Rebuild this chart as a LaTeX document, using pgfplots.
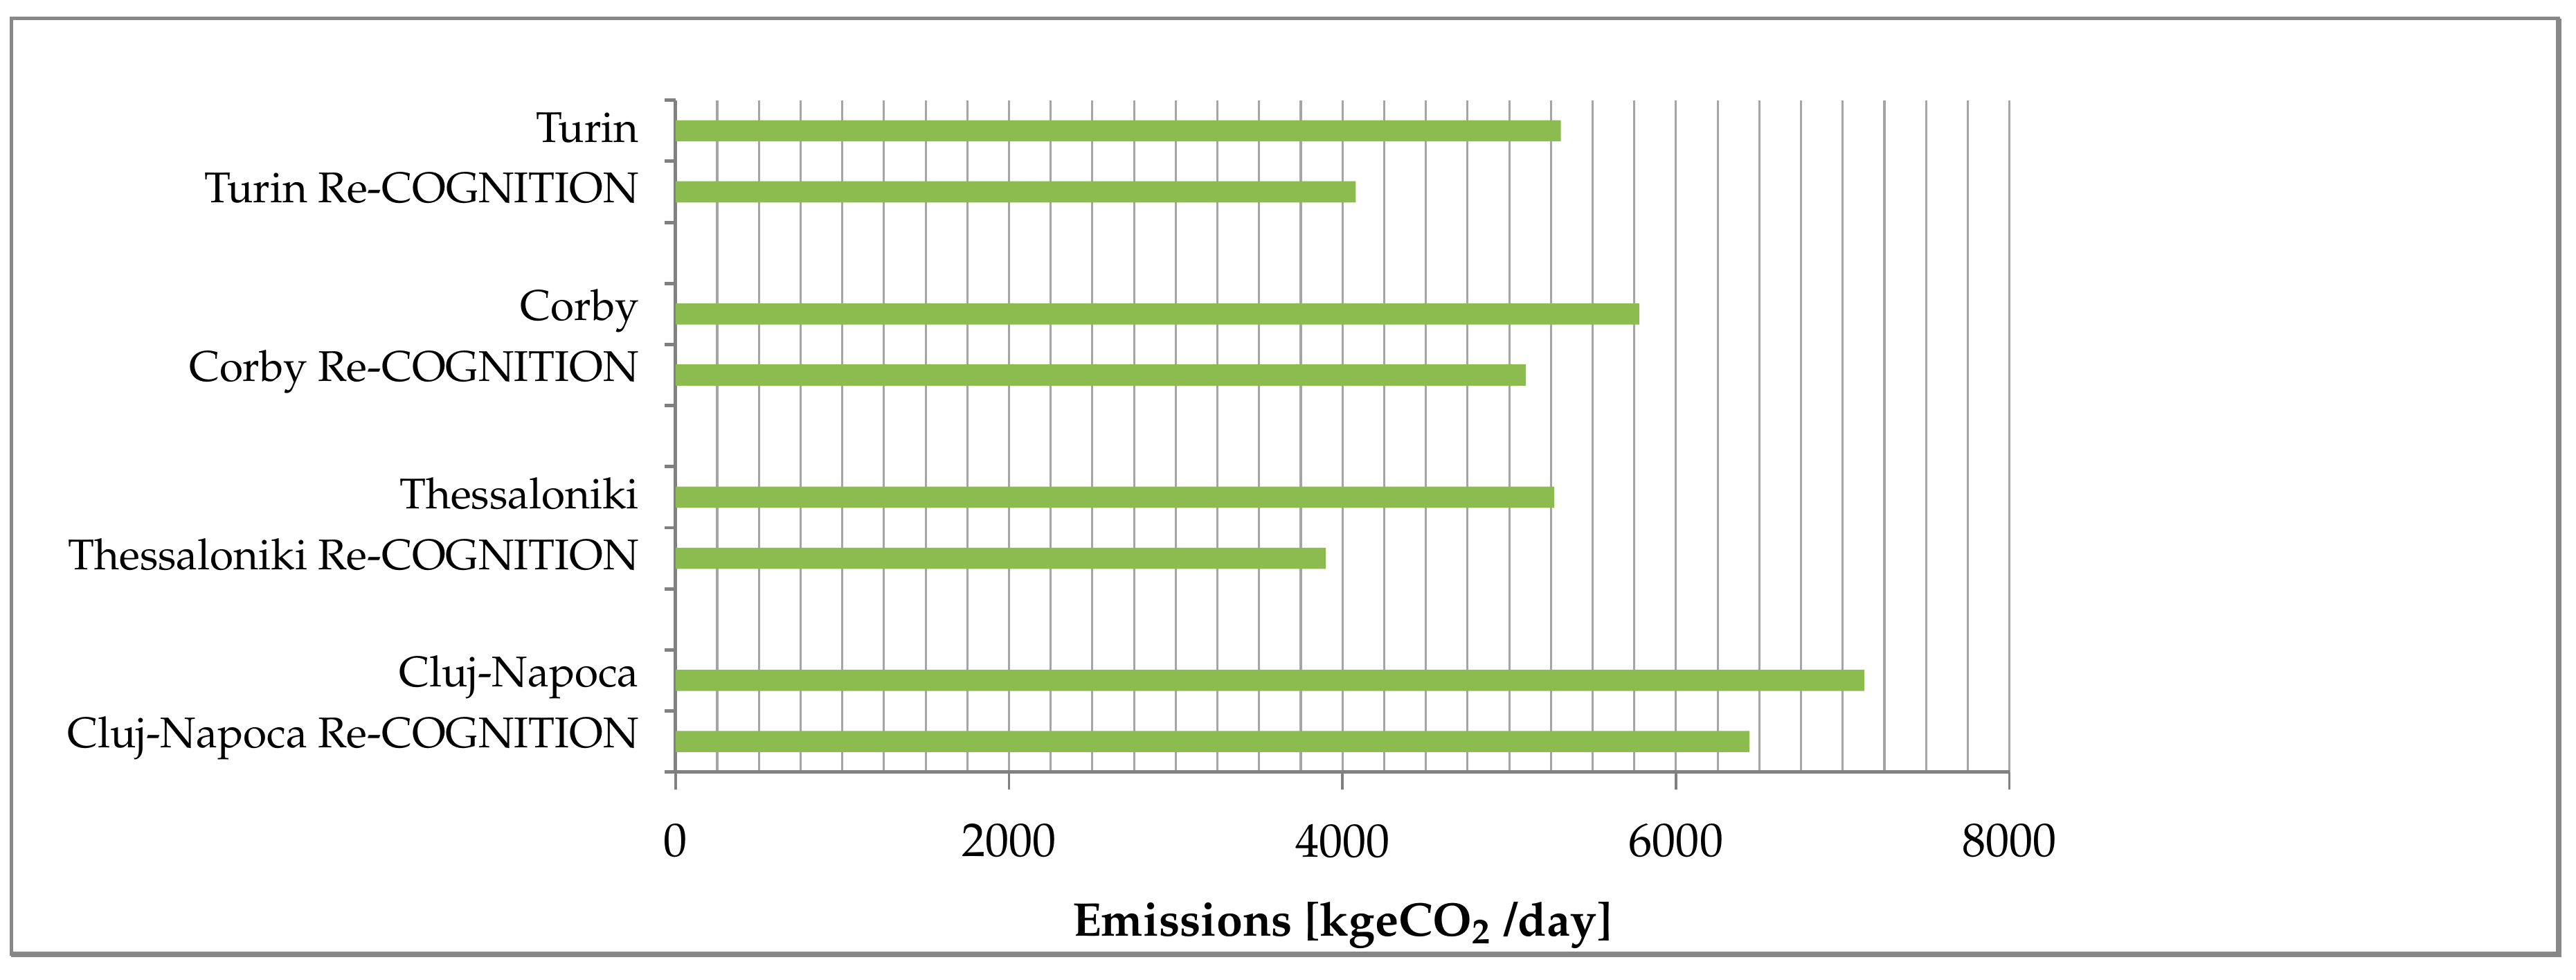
\documentclass[border=0pt]{standalone}
\usepackage[T1]{fontenc}
\usepackage{mathpazo}
\usepackage{pgfplots}
\pgfplotsset{compat=1.18}
\definecolor{bargreen}{RGB}{140,187,80}
\definecolor{framegray}{RGB}{136,136,136}
\definecolor{gridgray}{RGB}{165,165,165}
\definecolor{axisgray}{RGB}{128,128,128}
\begin{document}
\begin{tikzpicture}
\useasboundingbox (0,0) rectangle (600.2pt,228.2pt);
\draw[framegray, line width=0.8pt] (2.6pt,6.0pt) rectangle (596.1pt,223.9pt);
\draw[framegray, line width=1.3pt] (2.6pt,6.0pt) -- (596.1pt,6.0pt) -- (596.1pt,223.9pt);
\begin{axis}[
  at={(157.4pt,48.4pt)}, anchor=south west,
  scale only axis, width=310.8pt, height=156.45pt,
  xbar, bar width=4.94pt,
  xmin=0, xmax=8000, ymin=-0.5, ymax=10.5,
  axis x line*=bottom, axis y line*=left,
  axis line style={-, draw=axisgray, line width=0.8pt},
  tick align=outside,
  xtick={0,2000,4000,6000,8000},
  minor xtick={0,250,...,8000},
  xmajorgrids, xminorgrids,
  major grid style={draw=gridgray, line width=0.5pt},
  minor grid style={draw=gridgray, line width=0.5pt},
  ytick={0,1,3,4,6,7,9,10},
  yticklabels={Cluj-Napoca Re-COGNITION, Cluj-Napoca, Thessaloniki Re-COGNITION, Thessaloniki, Corby Re-COGNITION, Corby, Turin Re-COGNITION, Turin},
  minor ytick={-0.5,0.5,...,10.5},
  major tick length=4pt, minor tick length=2.6pt,
  major y tick style={draw=none},
  minor x tick style={draw=none},
  major x tick style={draw=axisgray, line width=0.6pt},
  minor y tick style={draw=axisgray, line width=0.8pt},
  /pgf/number format/1000 sep={},
  xticklabel style={font=\fontsize{11}{13}\selectfont, yshift=-4.6pt},
  yticklabel style={font=\fontsize{10}{12}\selectfont, xshift=-1pt, yshift=0.8pt},
  xlabel={Emissions [kgeCO\textsubscript{2} /day]},
  xlabel style={at={(axis description cs:0.5,0)}, anchor=base, yshift=-38.2pt, font=\fontsize{11}{13}\selectfont\bfseries},
]
\addplot[fill=bargreen, draw=none] coordinates {(6440,0) (7130,1) (3900,3) (5270,4) (5100,6) (5780,7) (4080,9) (5310,10)};
\end{axis}
\end{tikzpicture}
\end{document}
